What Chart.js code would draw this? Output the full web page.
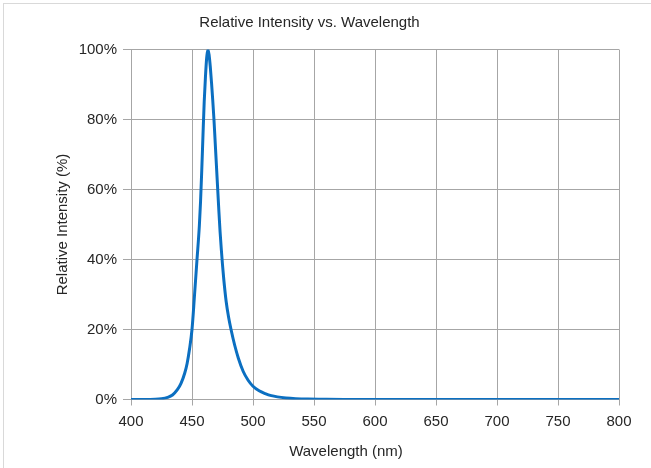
<!DOCTYPE html>
<html>
<head>
<meta charset="utf-8">
<script src="https://cdn.jsdelivr.net/npm/chart.js"></script>
<style>
  body { margin: 0; background: #fff; }
  .wrap { position: relative; width: 651px; height: 468px; overflow: hidden; }
  .frame {
    position: absolute; left: 3px; top: 3px; width: 700px; height: 500px;
    border-left: 1px solid #d9d9d9; border-top: 1px solid #d9d9d9;
  }
  canvas { position: absolute; left: 0; top: 0; }
</style>
</head>
<body>
<div class="wrap">
  <div class="frame"></div>
  <canvas id="spectrum" width="651" height="468"></canvas>
</div>
<script>
// wavelength (nm) and relative intensity (%)
const wavelengths = [400, 410, 420, 425, 430, 434, 438, 441, 444, 446, 448, 450,
  452, 454, 456, 457, 458, 459, 460, 461, 462, 463, 464, 465, 466, 467, 468,
  469, 470, 471, 472, 473, 474, 475, 476, 478, 480, 482, 485, 488, 492, 496,
  500, 505, 510, 515, 520, 527, 535, 545, 560, 580, 600, 650, 700, 750, 800];
const intensity = [0, 0, 0.05, 0.2, 0.6, 1.3, 2.8, 4.6, 7.5, 10.3, 14.5, 20,
  29.5, 39.5, 49.5, 56.5, 65.5, 75.5, 85, 92, 97.5, 100, 98.5, 95, 90.5, 85.5, 80,
  73.5, 67, 60.5, 54, 48, 43, 38.5, 34.5, 28, 23.5, 20, 15.5, 11.8, 8, 5.5,
  3.8, 2.5, 1.7, 1.1, 0.75, 0.45, 0.25, 0.12, 0.05, 0.02, 0, 0, 0, 0, 0];
const xTicks = [400, 450, 500, 550, 600, 650, 700, 750, 800];
const yTicks = [0, 20, 40, 60, 80, 100];

const textColor = "#262626";
const gridColor = "#a6a6a6";
const fontFamily = '"Liberation Sans", Arial, sans-serif';

const points = wavelengths.map((w, i) => ({ x: w, y: intensity[i] }));

// Excel puts the x-axis title off-centre, so draw it by hand
const xAxisTitle = {
  id: "xAxisTitle",
  afterDraw(chart) {
    const { ctx } = chart;
    ctx.save();
    ctx.font = `15px ${fontFamily}`;
    ctx.fillStyle = textColor;
    ctx.textAlign = "center";
    ctx.textBaseline = "middle";
    ctx.fillText("Wavelength (nm)", 346, 452);
    ctx.restore();
  },
};

const ctx = document.getElementById("spectrum").getContext("2d");
const chart = new Chart(ctx, {
  type: "line",
  data: {
    datasets: [
      {
        data: points,
        borderColor: "#0b6fc1",
        borderWidth: 3,
        pointRadius: 0,
        fill: false,
        cubicInterpolationMode: "monotone",
      },
    ],
  },
  options: {
    responsive: false,
    animation: false,
    layout: { padding: { left: 0, right: 32, top: 0, bottom: 0 } },
    scales: {
      x: {
        type: "linear",
        min: 400,
        max: 800,
        afterBuildTicks(scale) {
          scale.ticks = xTicks.map((v) => ({ value: v }));
        },
        afterFit(scale) {
          scale.height = 68.5;
        },
        grid: { color: gridColor, tickLength: 6 },
        border: { color: gridColor },
        ticks: {
          color: textColor,
          font: { family: fontFamily, size: 15 },
          padding: 7,
          maxRotation: 0,
        },
      },
      y: {
        min: 0,
        max: 100,
        afterBuildTicks(scale) {
          scale.ticks = yTicks.map((v) => ({ value: v }));
        },
        afterFit(scale) {
          scale.width = 131;
        },
        grid: { color: gridColor, tickLength: 8 },
        border: { color: gridColor },
        ticks: {
          color: textColor,
          font: { family: fontFamily, size: 15 },
          padding: 6,
          callback: (v) => v + "%",
        },
        title: {
          display: true,
          text: "Relative Intensity (%)",
          color: textColor,
          font: { family: fontFamily, size: 15 },
          padding: { top: 54, bottom: 0 },
        },
      },
    },
    plugins: {
      legend: { display: false },
      tooltip: { enabled: false },
      title: {
        display: true,
        text: "Relative Intensity vs. Wavelength",
        color: textColor,
        font: { family: fontFamily, size: 15, weight: "normal" },
        padding: { top: 14, bottom: 17.5 },
      },
    },
  },
  plugins: [xAxisTitle],
});
</script>
</body>
</html>
